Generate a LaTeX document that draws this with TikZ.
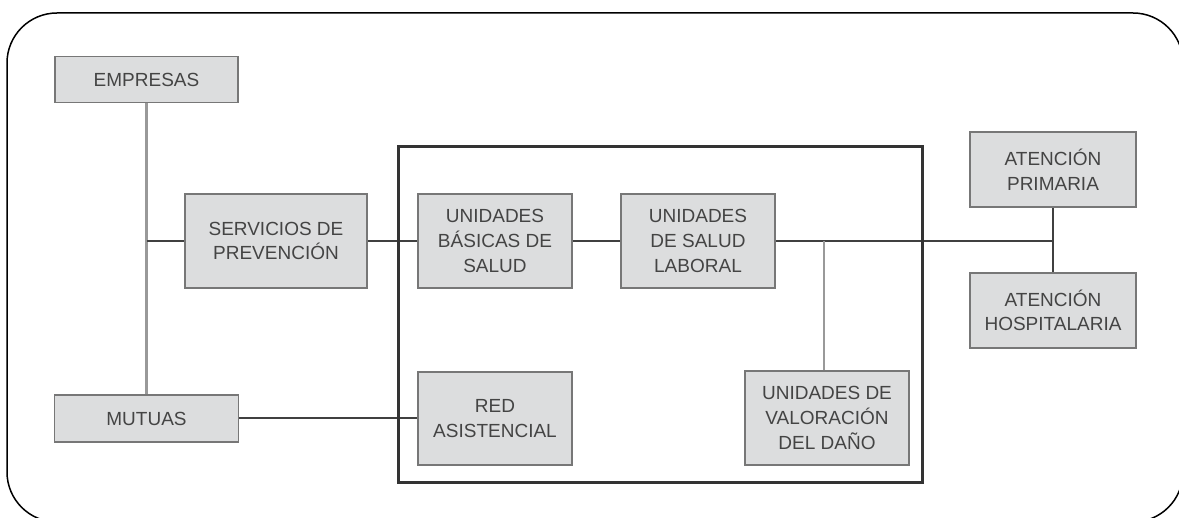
\documentclass[tikz,border=0pt]{standalone}
\usepackage{fontspec}
\setmainfont{Liberation Sans}
\definecolor{boxfill}{HTML}{DCDDDE}
\definecolor{boxline}{HTML}{777777}
\definecolor{txt}{HTML}{444444}
\definecolor{darkline}{HTML}{404040}
\definecolor{lightline}{HTML}{999999}
\tikzset{
  unit/.style={draw=boxline, line width=1.8pt, fill=boxfill, text=txt, align=center,
    font=\fontsize{19}{24.7}\selectfont, inner sep=0pt, anchor=center},
  dk/.style={draw=darkline, line width=2pt},
  lt/.style={draw=lightline, line width=2.4pt},
}
\begin{document}
\begin{tikzpicture}[x=1pt,y=-1pt]
\useasboundingbox (0,0) rectangle (1179,518);
\begin{scope}
\clip (0,0) rectangle (1179,518);
\draw[black, line width=1.5pt, rounded corners=50pt] (7,13) rectangle (1183,522);
\end{scope}

% nodes
\node[unit, minimum width=183pt, minimum height=46pt] (emp) at (146.5,79.5) {EMPRESAS};
\node[unit, minimum width=182pt, minimum height=94pt] (serv) at (276,241) {SERVICIOS DE\\PREVENCIÓN};
\node[unit, minimum width=184pt, minimum height=47pt] (mut) at (146.5,418.5) {MUTUAS};
\node[unit, minimum width=154pt, minimum height=94pt] (bas) at (495,241) {UNIDADES\\BÁSICAS DE\\SALUD};
\node[unit, minimum width=154pt, minimum height=94pt] (lab) at (698,241) {UNIDADES\\DE SALUD\\LABORAL};
\node[unit, minimum width=154pt, minimum height=93pt] (red) at (495,418.5) {RED\\ASISTENCIAL};
\node[unit, minimum width=164pt, minimum height=94pt] (val) at (827,418) {UNIDADES DE\\VALORACIÓN\\DEL DAÑO};
\node[unit, minimum width=166pt, minimum height=75pt] (pri) at (1053,169.5) {ATENCIÓN\\PRIMARIA};
\node[unit, minimum width=166pt, minimum height=75pt] (hos) at (1053,310.5) {ATENCIÓN\\HOSPITALARIA};

% junction coordinates
\coordinate (jl) at (emp.south |- serv.west);
\coordinate (jv) at (824,241);
\coordinate (jvb) at (824,0 |- val.north);
\coordinate (jr) at (pri.south |- lab.east);

% connectors
\draw[lt] (emp.south) -- (mut.north);
\draw[dk] (jl) -- (serv.west);
\draw[dk] (serv.east) -- (bas.west);
\draw[dk] (bas.east) -- (lab.west);
\draw[dk] (lab.east) -- (jr);
\draw[lt] (jv) -- (jvb);
\draw[dk] (pri.south) -- (hos.north);
\draw[dk] (mut.east) -- (red.west);

% inner frame
\draw[draw=black!80, line width=3pt] (398,147) rectangle (922,483);
\end{tikzpicture}
\end{document}
